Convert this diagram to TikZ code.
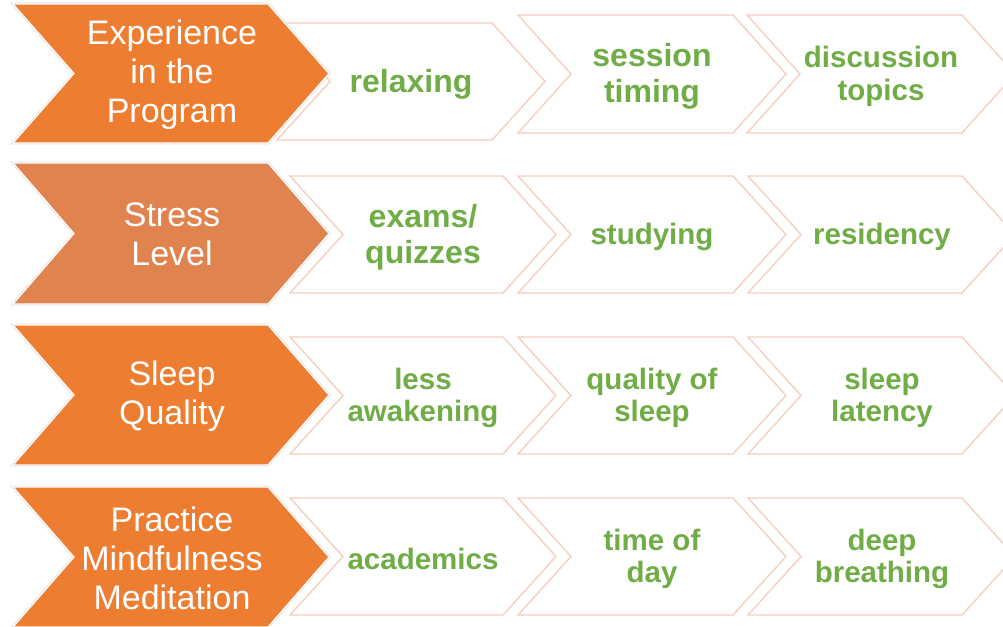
\documentclass[tikz,border=0pt]{standalone}
\usepackage{fontspec}
\setmainfont{Liberation Sans}
\definecolor{orA}{HTML}{ED7D31}
\definecolor{orB}{HTML}{E1834F}
\definecolor{grn}{HTML}{70AD47}
\definecolor{pnk}{HTML}{F5CFC0}
\tikzset{
  orangebox/.style={fill=#1, draw=white, line width=1.2pt, preaction={draw=black!13, line width=2.6pt}},
  whitebox/.style={fill=white, draw=pnk, line width=1.4pt},
  headtext/.style={text=white, align=center, inner sep=0pt, font=\fontsize{34}{39}\selectfont},
  itemtext/.style={text=grn, align=center, inner sep=0pt, font=\bfseries\fontsize{29.5}{32.5}\selectfont},
  bigitem/.style={text=grn, align=center, inner sep=0pt, font=\bfseries\fontsize{32}{36}\selectfont},
}
% #1 x, #2 top, #3 width, #4 height, #5 depth, #6 style
\newcommand\mychev[6]{%
  \path[#6] (#1,#2) -- ++(#3,0) -- ++(#5,#4/2) -- ++(-#5,#4/2) -- ++(-#3,0) -- ++(#5,-#4/2) -- cycle;
}
\begin{document}
\begin{tikzpicture}[x=1pt,y=-1pt]
\useasboundingbox (0,0) rectangle (1003,626);
\clip (0,0) rectangle (1003,626);
% ---- white chevrons ----
% row 1
\mychev{277}{23}{215}{117}{53}{whitebox}
\mychev{518}{15}{215}{118}{53}{whitebox}
\mychev{747}{15}{215}{118}{53}{whitebox}
% rows 2-4
\foreach \t in {176,337,498}{
  \mychev{290}{\t}{213}{117}{53}{whitebox}
  \mychev{518}{\t}{215}{117}{53}{whitebox}
  \mychev{748}{\t}{214}{117}{53}{whitebox}
}
% ---- orange chevrons ----
\mychev{13}{4}{255}{139}{61}{orangebox=orA}
\mychev{13}{163}{255}{141}{61}{orangebox=orB}
\mychev{13}{325}{255}{140}{61}{orangebox=orA}
\mychev{13}{487}{255}{140}{61}{orangebox=orA}
% ---- head texts ----
\node[headtext] (h1) at (172,74.5) {Experience\\in the\\Program};
\node[headtext] (h2) at (172,234.5) {Stress\\Level};
\node[headtext] (h3) at (172,396) {Sleep\\Quality};
\node[headtext] (h4) at (172,558) {Practice\\Mindfulness\\Meditation};
% ---- item texts ----
\node[bigitem]  (a1) at (411,84) {relaxing};
\node[bigitem]  (b1) at (652,76.5) {session\\timing};
\node[itemtext] (c1) at (881,76.5) {discussion\\topics};
\node[bigitem]  (a2) at (423,237) {exams/\\quizzes};
\node[itemtext] (b2) at (652,237) {studying};
\node[itemtext] (c2) at (882,237) {residency};
\node[itemtext] (a3) at (423,398) {less\\awakening};
\node[itemtext] (b3) at (652,398) {quality of\\sleep};
\node[itemtext] (c3) at (882,398) {sleep\\latency};
\node[itemtext] (a4) at (423,559) {academics};
\node[itemtext] (b4) at (652,559) {time of\\day};
\node[itemtext] (c4) at (882,559) {deep\\breathing};
\end{tikzpicture}
\end{document}
